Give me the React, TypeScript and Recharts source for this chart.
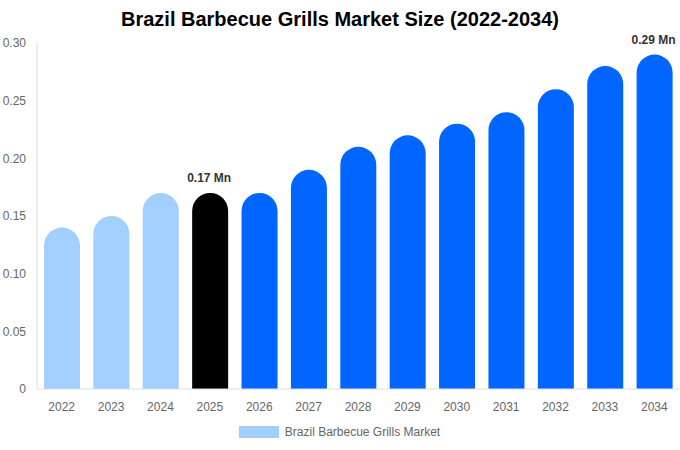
import { BarChart, Bar, Cell, XAxis, YAxis, Legend, LabelList } from 'recharts'

const years = ['2022', '2023', '2024', '2025', '2026', '2027', '2028', '2029', '2030', '2031', '2032', '2033', '2034']
const marketSize = [0.14, 0.15, 0.17, 0.17, 0.17, 0.19, 0.21, 0.22, 0.23, 0.24, 0.26, 0.28, 0.29]
const yTicks = [0, 0.05, 0.1, 0.15, 0.2, 0.25, 0.3]
const labelled = ['2025', '2034']

const LIGHT = '#a3cffe'
const BASE = '#000000'
const BLUE = '#0066ff'
const GREY = '#666666'

function barColor(year: string): string {
  const y = Number(year)
  if (y < 2025) return LIGHT
  if (y === 2025) return BASE
  return BLUE
}

const data = years.map((year, i) => ({ year, value: marketSize[i] }))

function renderLabel(props: any) {
  const { x, y, width, index } = props
  if (!labelled.includes(years[index])) return null
  return (
    <text
      x={x + width / 2 - 1}
      y={y - 11}
      textAnchor="middle"
      fill="#333"
      fontSize={12}
      fontWeight="bold"
      fontFamily="Liberation Sans, Arial, sans-serif"
    >
      {`${marketSize[index].toFixed(2)} Mn`}
    </text>
  )
}

function renderLegend() {
  return (
    <div style={{ display: 'flex', justifyContent: 'center', alignItems: 'center', paddingTop: 6, fontFamily: 'Liberation Sans, Arial, sans-serif', fontSize: 12, color: GREY }}>
      <span style={{ display: 'inline-block', width: 40, height: 12, background: LIGHT, marginRight: 6 }} />
      <span>Brazil Barbecue Grills Market</span>
    </div>
  )
}

export default function App() {
  return (
    <div style={{ position: 'fixed', left: 0, top: 0, width: 680, height: 450, background: '#fff', fontFamily: 'Liberation Sans, Arial, sans-serif' }}>
      <div style={{ position: 'absolute', top: 8, width: 680, textAlign: 'center', fontSize: 20, fontWeight: 'bold', color: '#000' }}>
        Brazil Barbecue Grills Market Size (2022-2034)
      </div>
      <BarChart width={680} height={450} data={data} margin={{ top: 43, right: 1, left: 0, bottom: 11 }}>
        <XAxis
          dataKey="year"
          tickLine={false}
          axisLine={{ stroke: '#ddd' }}
          tick={{ fill: GREY, fontSize: 12, dy: 5 }}
          height={30}
        />
        <YAxis
          domain={[0, 0.3]}
          ticks={yTicks}
          tickFormatter={(v: number) => (v === 0 ? '0' : v.toFixed(2))}
          tickLine={false}
          axisLine={{ stroke: '#ddd' }}
          tick={{ fill: GREY, fontSize: 12, dx: -3 }}
          width={37}
        />
        <Legend verticalAlign="bottom" height={20} content={renderLegend} />
        <Bar dataKey="value" name="Brazil Barbecue Grills Market" barSize={36} radius={[18, 18, 0, 0]} isAnimationActive={false}>
          {data.map((d) => (
            <Cell key={d.year} fill={barColor(d.year)} />
          ))}
          <LabelList dataKey="value" content={renderLabel} />
        </Bar>
      </BarChart>
    </div>
  )
}
